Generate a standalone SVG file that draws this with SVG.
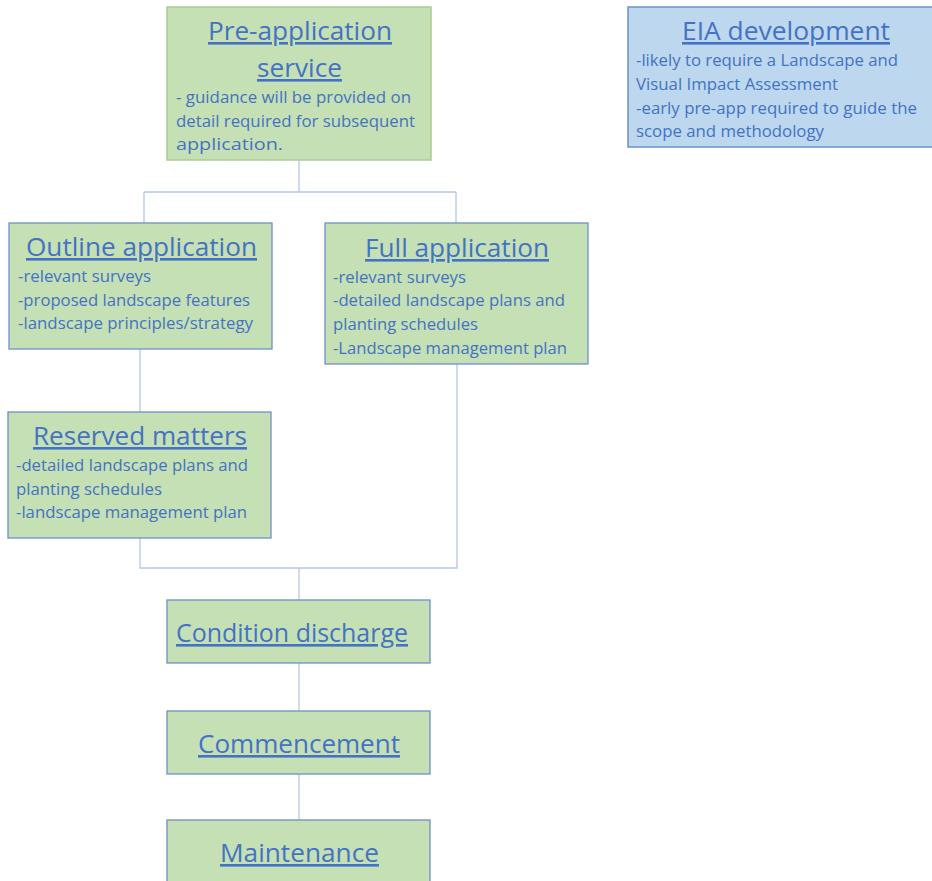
<svg xmlns="http://www.w3.org/2000/svg" width="932" height="881" viewBox="0 0 932 881">
<style>
.g{fill:#c5e0b4;stroke:#6f8fc9;stroke-width:1.3}
.gp{fill:#c5e0b4;stroke:#a9cc8f;stroke-width:1.5}
.b{fill:#bdd7ee;stroke:#6f8fc9;stroke-width:1.5}
text{font-family:"Open Sans","Noto Sans","Liberation Sans",sans-serif;fill:#4472c4}
.t{font-size:26px;text-decoration:underline}
.s{font-size:17px}
.c{fill:none;stroke:#b4c7e7;stroke-width:1.3}
</style>
<rect width="932" height="881" fill="#fff"/>
<g id="connectors">
<path class="c" d="M299,160V192M144,192H456M144,192V223M456,192V223"/>
<path class="c" d="M140,349V412"/>
<path class="c" d="M140,538V568H457V364M299,568V600"/>
<path class="c" d="M299,663V711M299,774V820"/>
</g>
<g id="pre-application">
<rect class="gp" x="167" y="7" width="264" height="153"/>
<text class="t" x="208" y="40" textLength="184" lengthAdjust="spacingAndGlyphs">Pre-application</text>
<text class="t" x="257" y="77" textLength="85" lengthAdjust="spacingAndGlyphs">service</text>
<text class="s" x="176" y="103" textLength="235" lengthAdjust="spacingAndGlyphs">- guidance will be provided on</text>
<text class="s" x="176" y="127" textLength="239" lengthAdjust="spacingAndGlyphs">detail required for subsequent</text>
<text class="s" x="176" y="150" textLength="107" lengthAdjust="spacingAndGlyphs">application.</text>
</g>
<g id="eia">
<rect class="b" x="628" y="7" width="310" height="140"/>
<text class="t" x="682" y="40" textLength="208" lengthAdjust="spacingAndGlyphs">EIA development</text>
<text class="s" x="636" y="66" textLength="262" lengthAdjust="spacingAndGlyphs">-likely to require a Landscape and</text>
<text class="s" x="636" y="90" textLength="202" lengthAdjust="spacingAndGlyphs">Visual Impact Assessment</text>
<text class="s" x="636" y="114" textLength="281" lengthAdjust="spacingAndGlyphs">-early pre-app required to guide the</text>
<text class="s" x="636" y="137" textLength="188" lengthAdjust="spacingAndGlyphs">scope and methodology</text>
</g>
<g id="outline">
<rect class="g" x="9" y="223" width="263" height="126"/>
<text class="t" x="26" y="256" textLength="231" lengthAdjust="spacingAndGlyphs">Outline application</text>
<text class="s" x="18" y="282" textLength="133" lengthAdjust="spacingAndGlyphs">-relevant surveys</text>
<text class="s" x="18" y="306" textLength="232" lengthAdjust="spacingAndGlyphs">-proposed landscape features</text>
<text class="s" x="18" y="329" textLength="235" lengthAdjust="spacingAndGlyphs">-landscape principles/strategy</text>
</g>
<g id="full">
<rect class="g" x="325" y="223" width="263" height="141"/>
<text class="t" x="365" y="257" textLength="184" lengthAdjust="spacingAndGlyphs">Full application</text>
<text class="s" x="333" y="283" textLength="133" lengthAdjust="spacingAndGlyphs">-relevant surveys</text>
<text class="s" x="333" y="306" textLength="232" lengthAdjust="spacingAndGlyphs">-detailed landscape plans and</text>
<text class="s" x="333" y="330" textLength="145" lengthAdjust="spacingAndGlyphs">planting schedules</text>
<text class="s" x="333" y="354" textLength="234" lengthAdjust="spacingAndGlyphs">-Landscape management plan</text>
</g>
<g id="reserved">
<rect class="g" x="8" y="412" width="263" height="126"/>
<text class="t" x="33" y="445" textLength="214" lengthAdjust="spacingAndGlyphs">Reserved matters</text>
<text class="s" x="16" y="471" textLength="232" lengthAdjust="spacingAndGlyphs">-detailed landscape plans and</text>
<text class="s" x="16" y="495" textLength="146" lengthAdjust="spacingAndGlyphs">planting schedules</text>
<text class="s" x="16" y="518" textLength="231" lengthAdjust="spacingAndGlyphs">-landscape management plan</text>
</g>
<g id="condition">
<rect class="g" x="167" y="600" width="263" height="63"/>
<text class="t" x="176" y="642" textLength="232" lengthAdjust="spacingAndGlyphs">Condition discharge</text>
</g>
<g id="commencement">
<rect class="g" x="167" y="711" width="263" height="63"/>
<text class="t" x="198" y="753" textLength="202" lengthAdjust="spacingAndGlyphs">Commencement</text>
</g>
<g id="maintenance">
<rect class="g" x="167" y="820" width="263" height="70"/>
<text class="t" x="220" y="862" textLength="159" lengthAdjust="spacingAndGlyphs">Maintenance</text>
</g>
</svg>
